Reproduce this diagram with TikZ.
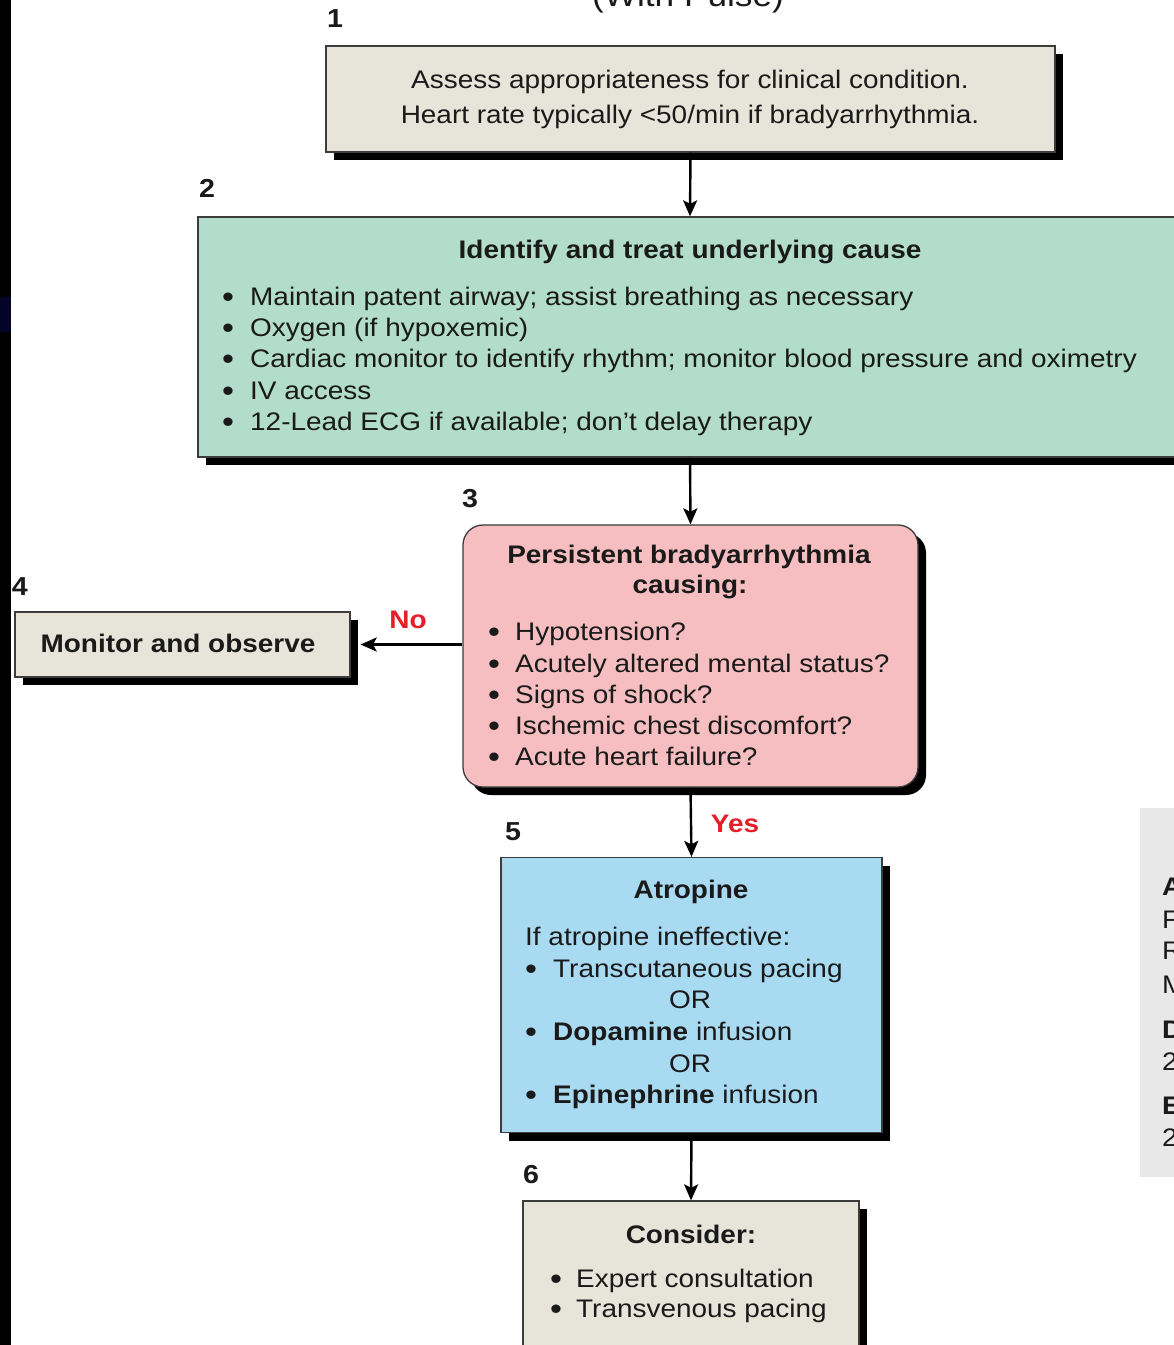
\documentclass[tikz,border=0pt]{standalone}
\usepackage{fontspec}
\setmainfont{Liberation Sans}[FakeStretch=1.1]
\usetikzlibrary{arrows.meta,shadows}

\definecolor{ink}{HTML}{1A1A1A}
\definecolor{edge}{HTML}{3C3C3C}
\definecolor{tanfill}{RGB}{231,229,217}
\definecolor{tealfill}{RGB}{178,220,203}
\definecolor{pinkfill}{RGB}{246,190,192}
\definecolor{bluefill}{RGB}{168,218,242}
\definecolor{sidefill}{RGB}{232,232,232}
\definecolor{alert}{RGB}{230,30,40}
\definecolor{navypatch}{RGB}{4,4,40}

% list bullet: a larger dot set in a box of fixed width
\newcommand{\itemdot}[1][28pt]{\makebox[#1][l]{\fontsize{31}{31}\selectfont\raisebox{-2.6pt}{\textbullet}}}

\begin{document}
\begin{tikzpicture}[x=1pt,y=-1pt,
  every node/.style={inner sep=0pt, text=ink},
  box/.style={draw=edge, line width=1.3pt, rectangle,
    drop shadow={shadow xshift=8pt, shadow yshift=-8pt, fill=black, opacity=1}},
  tanbox/.style={box, fill=tanfill},
  body/.style={font=\fontsize{25.4}{31.5}\selectfont},
  heavy/.style={font=\fontsize{25.4}{31.5}\selectfont\bfseries},
  lbl/.style={body, anchor=base west},
  mid/.style={body, anchor=base},
  num/.style={font=\fontsize{26}{26}\selectfont\bfseries, anchor=base},
  yn/.style={font=\fontsize{25.4}{26}\selectfont\bfseries, text=alert, anchor=base},
  arr/.style={line width=2.4pt, -{Stealth[length=16pt,width=14pt,inset=3.5pt]}},
]
\useasboundingbox (0,0) rectangle (1174,1345);
\clip (0,0) rectangle (1174,1345);
\fill[white] (0,0) rectangle (1174,1345);

% heading, only its lower edge falls on the page
\node[font=\fontsize{32}{32}\selectfont, anchor=base] (head) at (688,6) {(With Pulse)};

% step boxes
\node[tanbox, minimum width=729pt, minimum height=106pt] (b1) at (690.5,99) {};
\node[box, fill=tealfill, minimum width=984pt, minimum height=240pt] (b2) at (690,337) {};
\node[box, fill=pinkfill, rounded corners=20pt, minimum width=455pt, minimum height=262pt] (b3) at (690.5,656) {};
\node[tanbox, minimum width=335pt, minimum height=65pt] (b4) at (182.5,644.5) {};
\node[box, fill=bluefill, minimum width=381pt, minimum height=275pt] (b5) at (691.5,995) {};
\node[tanbox, minimum width=336pt, minimum height=200pt] (b6) at (691,1301) {};

% dose panel at the right
\node[fill=sidefill, minimum width=160pt, minimum height=369pt] (side) at (1220,992.5) {};

% step numbers
\node[num] (n1) at (335,27) {1};
\node[num] (n2) at (207,197) {2};
\node[num] (n3) at (470,507) {3};
\node[num, anchor=base east] (n4) at (28,595) {4};
\node[num] (n5) at (513,840) {5};
\node[num] (n6) at (531,1183) {6};

% box 1
\node[mid] (t1a) at (690,88) {Assess appropriateness for clinical condition.};
\node[mid] (t1b) at (690,123) {Heart rate typically <50/min if bradyarrhythmia.};

% box 2
\node[heavy, anchor=base] (t2h) at (690,258) {Identify and treat underlying cause};
\node[lbl] (t2a) at (222,305) {\itemdot Maintain patent airway; assist breathing as necessary};
\node[lbl] (t2b) at (222,336) {\itemdot Oxygen (if hypoxemic)};
\node[lbl] (t2c) at (222,367) {\itemdot Cardiac monitor to identify rhythm; monitor blood pressure and oximetry};
\node[lbl] (t2d) at (222,399) {\itemdot IV access};
\node[lbl] (t2e) at (222,430) {\itemdot 12-Lead ECG if available; don't delay therapy};

% box 3
\node[heavy, anchor=base] (t3h) at (689,563) {Persistent bradyarrhythmia};
\node[heavy, anchor=base] (t3i) at (690,593) {causing:};
\node[lbl] (t3a) at (488,640) {\itemdot[27pt]Hypotension?};
\node[lbl] (t3b) at (488,672) {\itemdot[27pt]Acutely altered mental status?};
\node[lbl] (t3c) at (488,703) {\itemdot[27pt]Signs of shock?};
\node[lbl] (t3d) at (488,734) {\itemdot[27pt]Ischemic chest discomfort?};
\node[lbl] (t3e) at (488,765) {\itemdot[27pt]Acute heart failure?};

% box 4
\node[heavy, anchor=base] (t4) at (178,652) {Monitor and observe};

% box 5
\node[heavy, anchor=base] (t5h) at (691,898) {Atropine};
\node[lbl] (t5a) at (525,945) {If atropine ineffective:};
\node[lbl] (t5b) at (525,977) {\itemdot Transcutaneous pacing};
\node[mid] (t5c) at (690,1008) {OR};
\node[lbl] (t5d) at (525,1040) {\itemdot\textbf{Dopamine} infusion};
\node[mid] (t5e) at (690,1072) {OR};
\node[lbl] (t5f) at (525,1103) {\itemdot\textbf{Epinephrine} infusion};

% box 6
\node[heavy, anchor=base] (t6h) at (691,1243) {Consider:};
\node[lbl] (t6a) at (550,1287) {\itemdot[26pt]Expert consultation};
\node[lbl] (t6b) at (550,1317) {\itemdot[26pt]Transvenous pacing};

% dose panel lines
\node[heavy, anchor=base west] (d1) at (1162,895) {Atropine IV Dose:};
\node[lbl] (d2) at (1162,928) {First dose: 0.5 mg bolus};
\node[lbl] (d3) at (1162,959) {Repeat every 3-5 minutes};
\node[lbl] (d4) at (1162,993) {Maximum: 3 mg};
\node[heavy, anchor=base west] (d5) at (1162,1038) {Dopamine IV Infusion:};
\node[lbl] (d6) at (1162,1070) {2-10 mcg/kg per minute};
\node[heavy, anchor=base west] (d7) at (1162,1114) {Epinephrine IV Infusion:};
\node[lbl] (d8) at (1162,1146) {2-10 mcg per minute};

% connectors
\draw[arr] (b1.south) -- (b2.north);
\draw[arr] (b2.south) -- (b3.north);
\draw[arr] (b3.west |- b4.east) -- ([xshift=10pt]b4.east);
\draw[arr] (b3.south) -- (b5.north);
\draw[arr] (b5.south) -- (b6.north);
\node[yn] (no) at (408,628) {No};
\node[yn] (yes) at (735,832) {Yes};

% dark strip along the left edge
\fill[black] (0,0) rectangle (10.5,1345);
\fill[navypatch] (0,297) rectangle (10.5,332);
\end{tikzpicture}
\end{document}
